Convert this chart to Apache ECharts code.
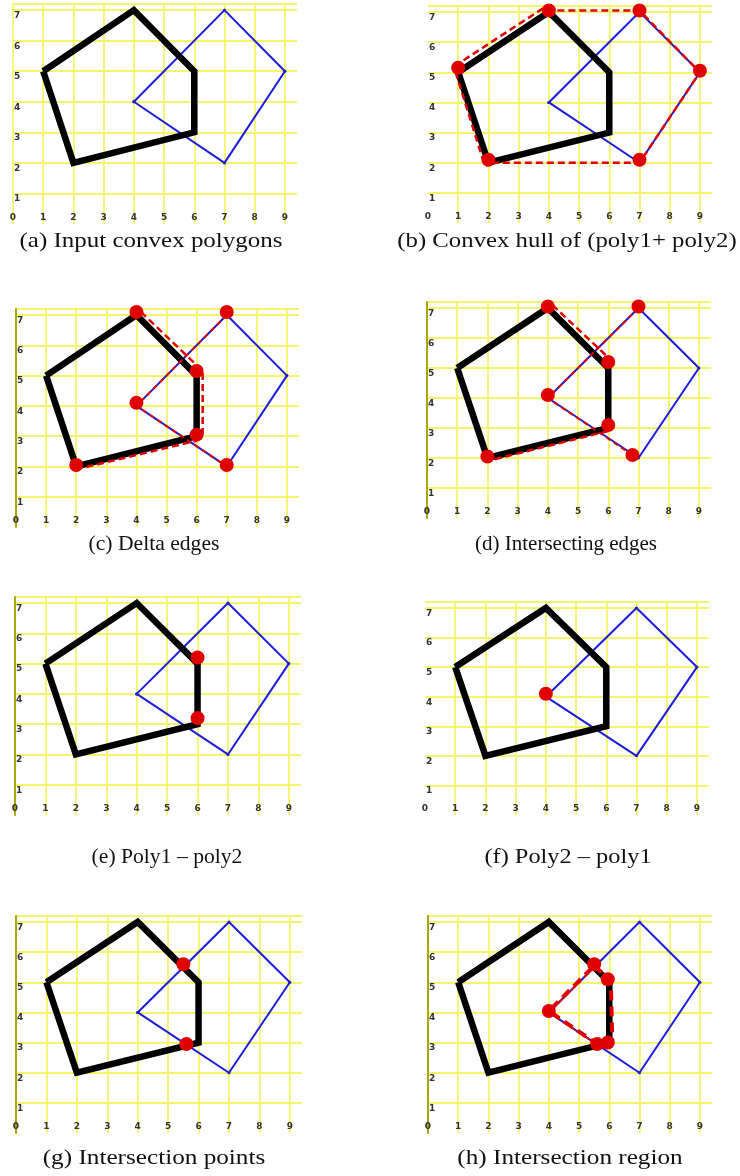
<!DOCTYPE html>
<html><head><meta charset="utf-8">
<script src="https://cdn.jsdelivr.net/npm/echarts@6/dist/echarts.min.js"></script>
<style>html,body{margin:0;padding:0;background:#fff}#c{width:740px;height:1176px}</style>
</head><body><div id="c"></div>
<script>
// ---- data ----
const poly1 = [[1,5],[4,7],[6,5],[6,3],[2,2],[1,5]];
const poly2 = [[4,4],[7,7],[9,5],[7,2],[4,4]];
const captions = ['(a) Input convex polygons','(b) Convex hull of (poly1+ poly2)','(c) Delta edges','(d) Intersecting edges','(e) Poly1 \u2013 poly2','(f) Poly2 \u2013 poly1','(g) Intersection points','(h) Intersection region'];
// (b) convex hull
const hullDash = [[1.85,2.0],[0.9,5.05],[1.1,5.35],[3.85,7.15],[4.1,7.05],[7,7.05],[9,5],[7,2.0],[1.85,2.0]];
const hullDots = [[4,7.05],[7,7.05],[9,5.05],[7,2.1],[2,2.1],[1,5.15]];
// (c) delta edges
const deltaDash = [[4.15,7.1],[6.05,5.3],[6.2,5.2],[6.2,3.1],[6.0,2.85],[2.2,1.95]];
const deltaOnBlue = [[7,7],[4,4],[7,2]];
const deltaDots = [[4,7.1],[7,7.1],[6,5.15],[4,4.1],[6,3.05],[7,2.05],[2,2.05]];
// (d) intersecting edges
const interEdgeDashA = [[4.15,7.1],[6.0,5.35]];
const interEdgeDashB = [[6.0,2.9],[2.2,1.95]];
const interEdgeOnBlue = [[7,7],[4,4],[6.8,2.1]];
const interEdgeDots = [[4,7.05],[7,7.05],[6,5.2],[4,4.1],[6,3.1],[6.8,2.1],[2,2.05]];
// (e) poly1 - poly2
const diff12Dots = [[6,5.2],[6,3.2]];
// (f) poly2 - poly1
const diff21Dots = [[4,4.1]];
// (g) intersection points
const isectDots = [[5.5,5.6],[5.6,2.95]];
// (h) intersection region
const regionDash = [[5.5,5.55],[6.05,5.05],[6.1,3.05],[5.6,2.95],[4,4.05],[5.5,5.55]];
const regionOnBlue = [[5.5,5.5],[4,4],[5.64,2.91]];
const regionDots = [[5.5,5.6],[5.95,5.1],[4,4.05],[5.6,2.95],[5.95,3.0]];

// ---- layout ----
const layout = [
  {left:13,  top:4,   width:284, height:220, cap:[151,241], sx:1.19, yLine:'yellow'},
  {left:428, top:6,   width:284, height:217, cap:[567,241], sx:1.18, yLine:null},
  {left:16,  top:309, width:283, height:218, cap:[154,544], sx:1.03, yLine:'olive'},
  {left:427, top:302, width:284, height:216, cap:[566,544], sx:1.0,  yLine:'olive'},
  {left:15,  top:597, width:286, height:218, cap:[167,857], sx:1.03, yLine:'olive'},
  {left:425, top:602, width:284, height:213, cap:[568,857], sx:1.16, yLine:null},
  {left:16,  top:916, width:286, height:217, cap:[154,1158], sx:1.2, yLine:'olive'},
  {left:428, top:916, width:284, height:217, cap:[570,1158], sx:1.2, yLine:'olive'}
];
const extras = [
  {},
  {dash:[hullDash], onBlue:[], dots:hullDots},
  {dash:[deltaDash], onBlue:[deltaOnBlue], dots:deltaDots},
  {dash:[interEdgeDashA, interEdgeDashB], onBlue:[interEdgeOnBlue], dots:interEdgeDots},
  {dots:diff12Dots},
  {dots:diff21Dots},
  {dots:isectDots},
  {thick:[regionDash], onBlue:[regionOnBlue], dots:regionDots}
];

const YEL = '#f5f56a', RED = '#e00000', BLUE = '#1c1cdc';
const grid=[], xAxis=[], yAxis=[], series=[], graphic=[];
const lbl = {fontSize:9, fontWeight:'bold', color:'#333', fontFamily:'DejaVu Sans'};

layout.forEach((L,i)=>{
  grid.push({left:L.left, top:L.top, width:L.width, height:L.height, containLabel:false});
  xAxis.push({type:'value', gridIndex:i, min:0, max:9.4, interval:1,
    axisLine:{show:false}, axisTick:{show:false},
    axisLabel:Object.assign({inside:true, margin:2, showMaxLabel:false}, lbl),
    splitLine:{show:true, showMinLine: L.yLine==='yellow', showMaxLine:false, lineStyle:{color:YEL, width:1.8}}});
  yAxis.push({type:'value', gridIndex:i, min:0, max:7.2, interval:1,
    axisLine:{show: L.yLine==='olive', onZero:false, lineStyle:{color:'#a8a800', width:2}},
    axisTick:{show:false},
    axisLabel:Object.assign({inside:true, margin:1, showMinLabel:false, showMaxLabel:false, verticalAlign:'top', padding:[1,0,0,0]}, lbl),
    splitLine:{show:true, showMinLine:false, showMaxLine:true, lineStyle:{color:YEL, width:1.8}}});
  series.push({type:'line', xAxisIndex:i, yAxisIndex:i, data:poly2, symbol:'circle', symbolSize:3,
    itemStyle:{color:BLUE}, lineStyle:{color:BLUE, width:2}, z:2, silent:true, animation:false});
  series.push({type:'line', xAxisIndex:i, yAxisIndex:i, data:poly1, symbol:'none',
    lineStyle:{color:'#000', width:6.5, join:'miter'}, z:3, silent:true, animation:false});
  const E = extras[i];
  (E.onBlue||[]).forEach(p=>series.push({type:'line', xAxisIndex:i, yAxisIndex:i, data:p, symbol:'none',
    lineStyle:{color:RED, width:2, type:[5,4]}, z:4, silent:true, animation:false}));
  (E.dash||[]).forEach(p=>series.push({type:'line', xAxisIndex:i, yAxisIndex:i, data:p, symbol:'none',
    lineStyle:{color:RED, width:2.5, type:[7,4]}, z:5, silent:true, animation:false}));
  (E.thick||[]).forEach(p=>series.push({type:'line', xAxisIndex:i, yAxisIndex:i, data:p, symbol:'none',
    lineStyle:{color:RED, width:4, type:[10,6]}, z:5, silent:true, animation:false}));
  if (E.dots) series.push({type:'scatter', xAxisIndex:i, yAxisIndex:i, data:E.dots, symbolSize:14,
    itemStyle:{color:RED, opacity:1}, z:6, silent:true, animation:false});
  graphic.push({type:'text', x:L.cap[0], y:L.cap[1], scaleX:L.sx, z:10,
    style:{text:captions[i], font:'21px "Liberation Serif"', fill:'#111', textAlign:'center', textVerticalAlign:'middle'}});
});

const chart = echarts.init(document.getElementById('c'), null, {renderer:'canvas'});
chart.setOption({animation:false, backgroundColor:'#fff', grid, xAxis, yAxis, series, graphic});
</script></body></html>
